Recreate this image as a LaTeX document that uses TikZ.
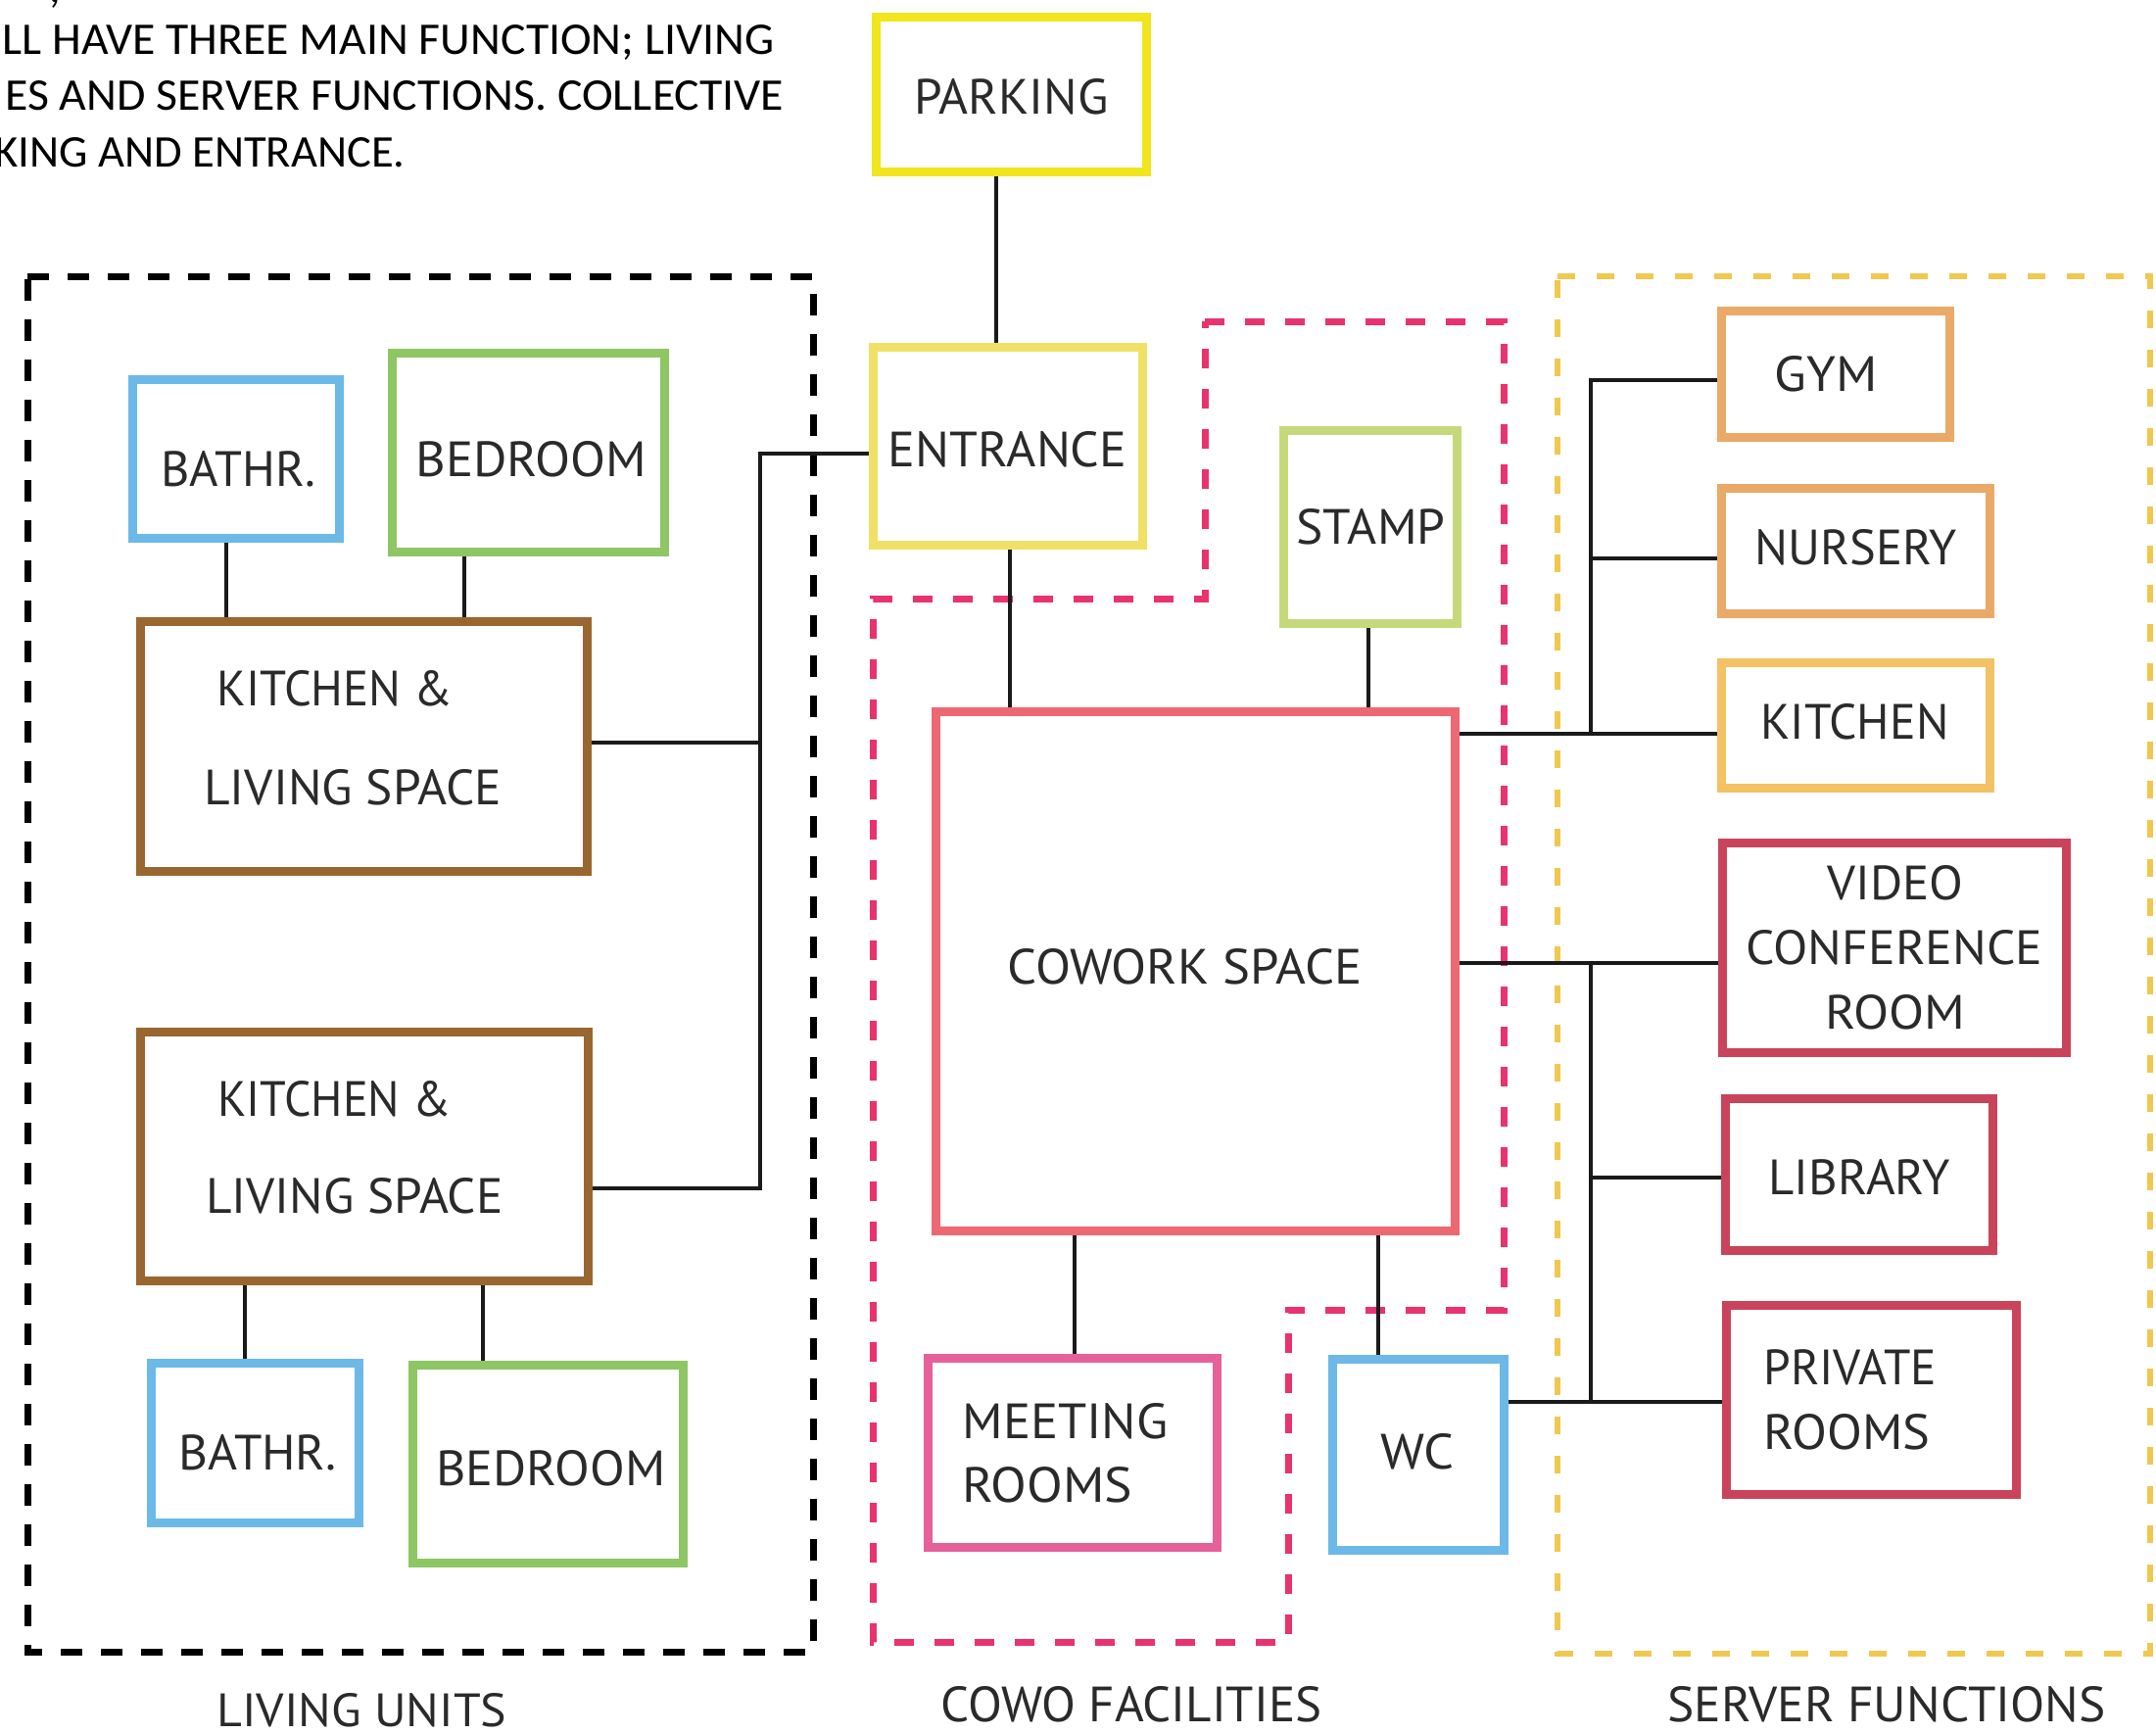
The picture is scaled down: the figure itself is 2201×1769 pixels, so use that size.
\documentclass[tikz,border=0pt]{standalone}
\usepackage{fontspec}
\usepackage{graphicx}
\setmainfont{PT Sans}
\newfontfamily\notefont{Carlito}

% one drawing unit = one pixel of the sheet, y grows downwards
\newdimen\pxu \pxu=0.5pt

\definecolor{parkingc}{HTML}{F2E51E}
\definecolor{entrancec}{HTML}{F0E068}
\definecolor{stampc}{HTML}{C6D97A}
\definecolor{coworkc}{HTML}{EE6873}
\definecolor{meetingc}{HTML}{E6609A}
\definecolor{bluec}{HTML}{6CB9E8}
\definecolor{greenc}{HTML}{8DC663}
\definecolor{brownc}{HTML}{9A6630}
\definecolor{orangec}{HTML}{EBA968}
\definecolor{goldc}{HTML}{F3C264}
\definecolor{crimsonc}{HTML}{C9445A}
\definecolor{pinkzone}{HTML}{E8336D}
\definecolor{goldzone}{HTML}{F0C850}
\definecolor{linkc}{HTML}{1A1A1A}
\definecolor{labelc}{HTML}{2A2A2A}

\tikzset{
  room/.style={draw, rectangle, line width=4.5pt, inner sep=0pt},
  conn/.style={draw=linkc, line width=1.6pt},
  lbl/.style={anchor=base west, inner sep=0pt, text=labelc},
  notetxt/.style={anchor=base west, inner sep=0pt, text=black, font=\notefont},
  livingzone/.style={draw=black, line width=3.5pt, dash pattern=on 11pt off 9.5pt},
  cowozone/.style={draw=pinkzone, line width=3.5pt, dash pattern=on 10pt off 10.5pt},
  serverzone/.style={draw=goldzone, line width=3pt, dash pattern=on 9pt off 11pt},
}

% \roombox{name}{x1}{y1}{x2}{y2}{colour}: outer edges of a room
\newcommand\roombox[6]{%
  \node[room, draw=#6,
        minimum width={(#4-#2-9)*0.5pt}, minimum height={(#5-#3-9)*0.5pt}]
        (#1) at ({(#2+#4)/2},{(#3+#5)/2}) {};}

% \roomlabel[cap height]{name}{left}{middle}{width}{text}
\newcommand\roomlabel[6][36]{%
  \node[lbl] (#2) at (#3,{#4+#1/2}) {\resizebox{#5\pxu}{#1\pxu}{#6}};}

\begin{document}
\begin{tikzpicture}[x=0.5pt, y=-0.5pt]
  \useasboundingbox (0,0) rectangle (2201,1769);
  \fill[white] (0,0) rectangle (2201,1769);

  % ---- heading text ----
  \node[notetxt, font=\notefont\fontsize{23}{28}\selectfont] (note0) at (50,2) {,};
  \node[notetxt] (note1) at (2,55) {\resizebox{788\pxu}{30\pxu}{LL HAVE THREE MAIN FUNCTION; LIVING}};
  \node[notetxt] (note2) at (5,112) {\resizebox{795\pxu}{30\pxu}{ES AND SERVER FUNCTIONS. COLLECTIVE}};
  \node[notetxt] (note3) at (-6,170) {\resizebox{419\pxu}{30\pxu}{KING AND ENTRANCE.}};

  % ---- zones ----
  \draw[livingzone] (28,282) -- (830,282) -- (830,1686) -- (28,1686) -- cycle;
  \draw[cowozone] (1230,328) -- (1535,328) -- (1535,1337) -- (1315,1337)
        -- (1315,1676) -- (891,1676) -- (891,611) -- (1230,611) -- cycle;
  \draw[serverzone] (1590,282) -- (2195,282) -- (2195,1688) -- (1590,1688) -- cycle;

  % ---- rooms ----
  \roombox{parking}{890}{13}{1175}{180}{parkingc}
  \roombox{entrance}{887}{350}{1171}{561}{entrancec}
  \roombox{stamp}{1306}{435}{1492}{641}{stampc}
  \roombox{cowork}{951}{722}{1490}{1261}{coworkc}
  \roombox{meeting}{943}{1382}{1247}{1584}{meetingc}
  \roombox{wc}{1356}{1383}{1540}{1587}{bluec}

  \roombox{gym}{1753}{313}{1995}{451}{orangec}
  \roombox{nursery}{1753}{494}{2036}{631}{orangec}
  \roombox{skitchen}{1753}{672}{2036}{809}{goldc}
  \roombox{video}{1754}{856}{2114}{1079}{crimsonc}
  \roombox{library}{1757}{1117}{2039}{1281}{crimsonc}
  \roombox{private}{1758}{1328}{2063}{1530}{crimsonc}

  \roombox{bathA}{131}{383}{351}{554}{bluec}
  \roombox{bedA}{396}{356}{683}{568}{greenc}
  \roombox{kitA}{139}{630}{604}{894}{brownc}
  \roombox{kitB}{139}{1049}{605}{1312}{brownc}
  \roombox{bathB}{150}{1387}{371}{1559}{bluec}
  \roombox{bedB}{417}{1389}{702}{1600}{greenc}

  % ---- connectors ----
  \draw[conn] (parking.south -| 1017,0) -- (entrance.north -| 1017,0);
  \draw[conn] (entrance.south -| 1031,0) -- (cowork.north -| 1031,0);
  \draw[conn] (stamp.south -| 1397,0) -- (cowork.north -| 1397,0);
  \draw[conn] (cowork.south -| 1097,0) -- (meeting.north -| 1097,0);
  \draw[conn] (cowork.south -| 1407,0) -- (wc.north -| 1407,0);

  \coordinate (lbusT) at (776,463);
  \coordinate (lbusB) at (776,1213);
  \draw[conn] (entrance.west |- lbusT) -- (lbusT) -- (lbusB) -- (kitB.east |- lbusB);
  \draw[conn] (kitA.east |- 0,758) -- (lbusT |- 0,758);
  \draw[conn] (bathA.south -| 231,0) -- (kitA.north -| 231,0);
  \draw[conn] (bedA.south -| 474,0) -- (kitA.north -| 474,0);
  \draw[conn] (kitB.south -| 250,0) -- (bathB.north -| 250,0);
  \draw[conn] (kitB.south -| 493,0) -- (bedB.north -| 493,0);

  \coordinate (sbusA) at (1624,388);
  \coordinate (sbusB) at (1624,749);
  \coordinate (sbusC) at (1624,983);
  \coordinate (sbusD) at (1624,1431);
  \draw[conn] (gym.west |- sbusA) -- (sbusA) -- (sbusB);
  \draw[conn] (nursery.west |- 0,570) -- (sbusA |- 0,570);
  \draw[conn] (cowork.east |- sbusB) -- (skitchen.west |- sbusB);
  \draw[conn] (cowork.east |- sbusC) -- (video.west |- sbusC);
  \draw[conn] (sbusC) -- (sbusD);
  \draw[conn] (library.west |- 0,1202) -- (sbusC |- 0,1202);
  \draw[conn] (wc.east |- sbusD) -- (private.west |- sbusD);

  % ---- room names ----
  \roomlabel{tparking}{933}{98}{198}{PARKING}
  \roomlabel{tentrance}{906}{458}{244}{ENTRANCE}
  \roomlabel{tstamp}{1323}{537}{152}{STAMP}
  \roomlabel{tcowork}{1028}{986}{362}{COWORK SPACE}
  \roomlabel{tmeetA}{982}{1450}{210}{MEETING}
  \roomlabel{tmeetB}{982}{1515}{174}{ROOMS}
  \roomlabel{twc}{1409}{1481}{75}{WC}

  \roomlabel{tgym}{1811}{381}{105}{GYM}
  \roomlabel{tnursery}{1791}{558}{206}{NURSERY}
  \roomlabel{tskitchen}{1797}{736}{192}{KITCHEN}
  \roomlabel[35]{tvideoA}{1865}{901}{139}{VIDEO}
  \roomlabel[35]{tvideoB}{1782}{967}{303}{CONFERENCE}
  \roomlabel[35]{tvideoC}{1863}{1033}{143}{ROOM}
  \roomlabel{tlibrary}{1805}{1201}{185}{LIBRARY}
  \roomlabel{tprivA}{1800}{1395}{177}{PRIVATE}
  \roomlabel{tprivB}{1800}{1461}{170}{ROOMS}

  \roomlabel{tbathA}{164}{478}{158}{BATHR.}
  \roomlabel{tbedA}{424}{468}{236}{BEDROOM}
  \roomlabel{tkitAa}{221}{702}{241}{KITCHEN \&}
  \roomlabel{tkitAb}{208}{803}{304}{LIVING SPACE}
  \roomlabel{tkitBa}{222}{1121}{238}{KITCHEN \&}
  \roomlabel{tkitBb}{210}{1220}{303}{LIVING SPACE}
  \roomlabel{tbathB}{182}{1482}{161}{BATHR.}
  \roomlabel{tbedB}{445}{1498}{234}{BEDROOM}

  % ---- zone names ----
  \roomlabel[34]{zliving}{221}{1745}{296}{LIVING UNITS}
  \roomlabel{zcowo}{960}{1739}{389}{COWO FACILITIES}
  \roomlabel{zserver}{1702}{1739}{447}{SERVER FUNCTIONS}
\end{tikzpicture}
\end{document}
